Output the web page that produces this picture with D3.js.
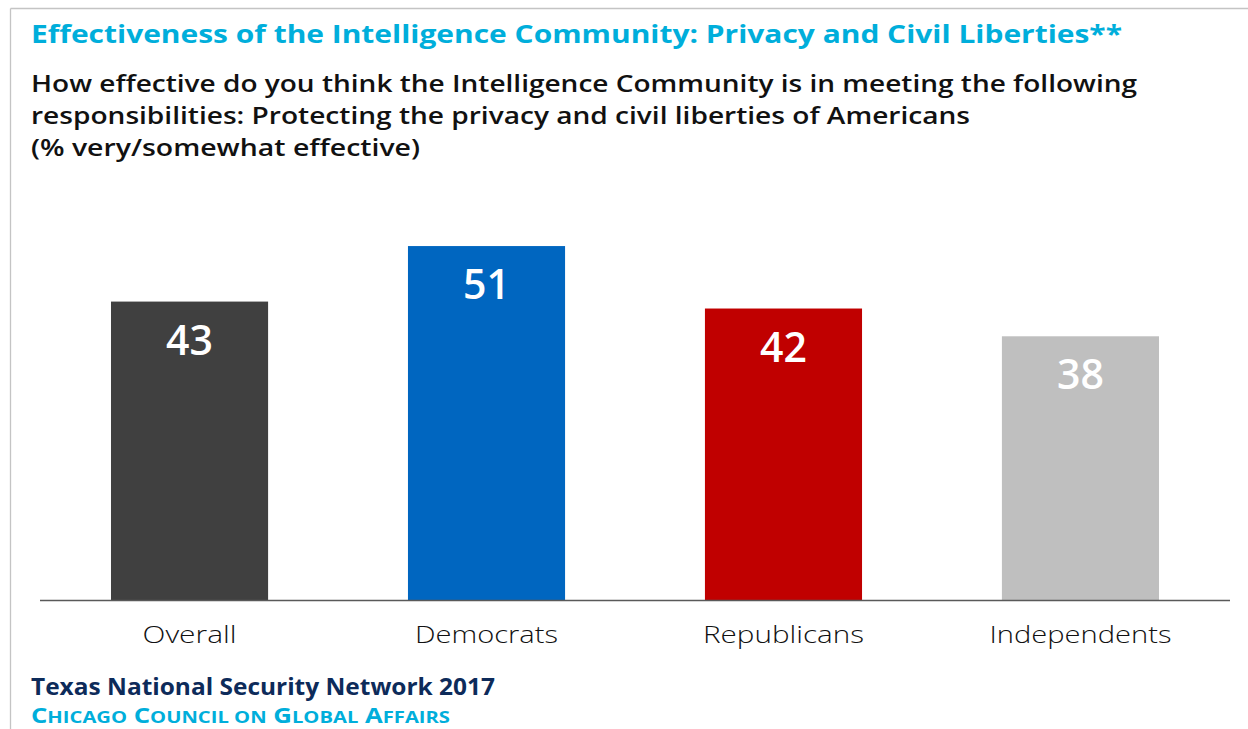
<!DOCTYPE html>
<html>
<head>
<meta charset="utf-8">
<script src="https://cdn.jsdelivr.net/npm/d3@7/dist/d3.min.js"></script>
<style>
  html, body { margin: 0; padding: 0; background: #fff; }
  svg { display: block; }
  text { font-family: "Open Sans", "Noto Sans", sans-serif; }
</style>
</head>
<body>
<svg id="chart" width="1248" height="729"></svg>
<script>
// Survey results: % who say the Intelligence Community is very/somewhat effective
const categories = ["Overall", "Democrats", "Republicans", "Independents"];
const values = [43, 51, 42, 38];
const barColors = ["#404040", "#0066c0", "#c00000", "#bfbfbf"];

const titleText = "Effectiveness of the Intelligence Community: Privacy and Civil Liberties**";
const subtitleLines = [
  "How effective do you think the Intelligence Community is in meeting the following",
  "responsibilities: Protecting the privacy and civil liberties of Americans",
  "(% very/somewhat effective)"
];
const sourceText = "Texas National Security Network 2017";
const publisherWords = ["Chicago", "Council", "on", "Global", "Affairs"];

const W = 1248, H = 729;
const svg = d3.select("#chart");

// Frame lines along the top and left edges
svg.append("line").attr("x1", 10.5).attr("x2", W).attr("y1", 8.5).attr("y2", 8.5)
  .attr("stroke", "#c4c4c4").attr("stroke-width", 1.3);
svg.append("line").attr("x1", 10.5).attr("x2", 10.5).attr("y1", 8.5).attr("y2", H)
  .attr("stroke", "#c4c4c4").attr("stroke-width", 1.3);

// Heading block
svg.append("text")
  .attr("x", 31).attr("y", 43)
  .attr("font-size", 25).attr("font-weight", 700)
  .attr("fill", "#00aedb")
  .attr("textLength", 1091).attr("lengthAdjust", "spacingAndGlyphs")
  .text(titleText);

const subWidths = [1106, 939, 389];
const subY = [92, 124, 156];
subtitleLines.forEach((line, i) => {
  svg.append("text")
    .attr("x", 31).attr("y", subY[i])
    .attr("font-size", 23).attr("font-weight", 600)
    .attr("fill", "#111")
    .attr("textLength", subWidths[i]).attr("lengthAdjust", "spacingAndGlyphs")
    .text(line);
});

// Scales
const x = d3.scaleBand()
  .domain(categories)
  .range([41, 1229])
  .paddingInner(0.471)
  .paddingOuter(0.2357);

const y = d3.scaleLinear()
  .domain([0, 60])
  .range([600, 600 - 6.94 * 60]);

// Bars
svg.append("g").selectAll("rect")
  .data(categories)
  .join("rect")
  .attr("x", d => x(d))
  .attr("width", x.bandwidth())
  .attr("y", (d, i) => y(values[i]))
  .attr("height", (d, i) => y(0) - y(values[i]))
  .attr("fill", (d, i) => barColors[i]);

// Value labels inside the bars
svg.append("g").selectAll("text")
  .data(categories)
  .join("text")
  .attr("x", d => x(d) + x.bandwidth() / 2)
  .attr("y", (d, i) => y(values[i]) + 53)
  .attr("text-anchor", "middle")
  .attr("font-size", 41).attr("font-weight", 600)
  .attr("fill", "#fff")
  .text((d, i) => values[i]);

// Category axis
const axis = svg.append("g")
  .attr("transform", `translate(0,${y(0)})`)
  .call(d3.axisBottom(x).tickSize(0).tickPadding(0));
axis.select(".domain").remove();
svg.append("line")
  .attr("x1", 40).attr("x2", 1230)
  .attr("y1", y(0) + 0.5).attr("y2", y(0) + 0.5)
  .attr("stroke", "#595959").attr("stroke-width", 1.3);
const labelWidths = { "Overall": 94, "Democrats": 143, "Republicans": 161, "Independents": 182 };
axis.selectAll(".tick text")
  .attr("y", 43).attr("dy", 0)
  .attr("font-family", "\"Open Sans\", \"Noto Sans\", sans-serif")
  .attr("font-size", 24).attr("font-weight", 300)
  .attr("fill", "#111")
  .attr("textLength", d => labelWidths[d])
  .attr("lengthAdjust", "spacingAndGlyphs");

// Source lines
svg.append("text")
  .attr("x", 31).attr("y", 695)
  .attr("font-size", 23).attr("font-weight", 700)
  .attr("fill", "#0d2b5a")
  .attr("textLength", 464).attr("lengthAdjust", "spacingAndGlyphs")
  .text(sourceText);

// Publisher in small caps
const pub = svg.append("text")
  .attr("x", 31).attr("y", 723)
  .attr("font-weight", 700)
  .attr("fill", "#00aedb")
  .attr("textLength", 419).attr("lengthAdjust", "spacingAndGlyphs");
publisherWords.forEach((w, i) => {
  const lead = (i > 0 ? " " : "");
  if (w === "on") {
    pub.append("tspan").attr("font-size", 16.5).text(lead + w.toUpperCase());
  } else {
    pub.append("tspan").attr("font-size", 21).text(lead + w[0]);
    pub.append("tspan").attr("font-size", 16.5).text(w.slice(1).toUpperCase());
  }
});
</script>
</body>
</html>
